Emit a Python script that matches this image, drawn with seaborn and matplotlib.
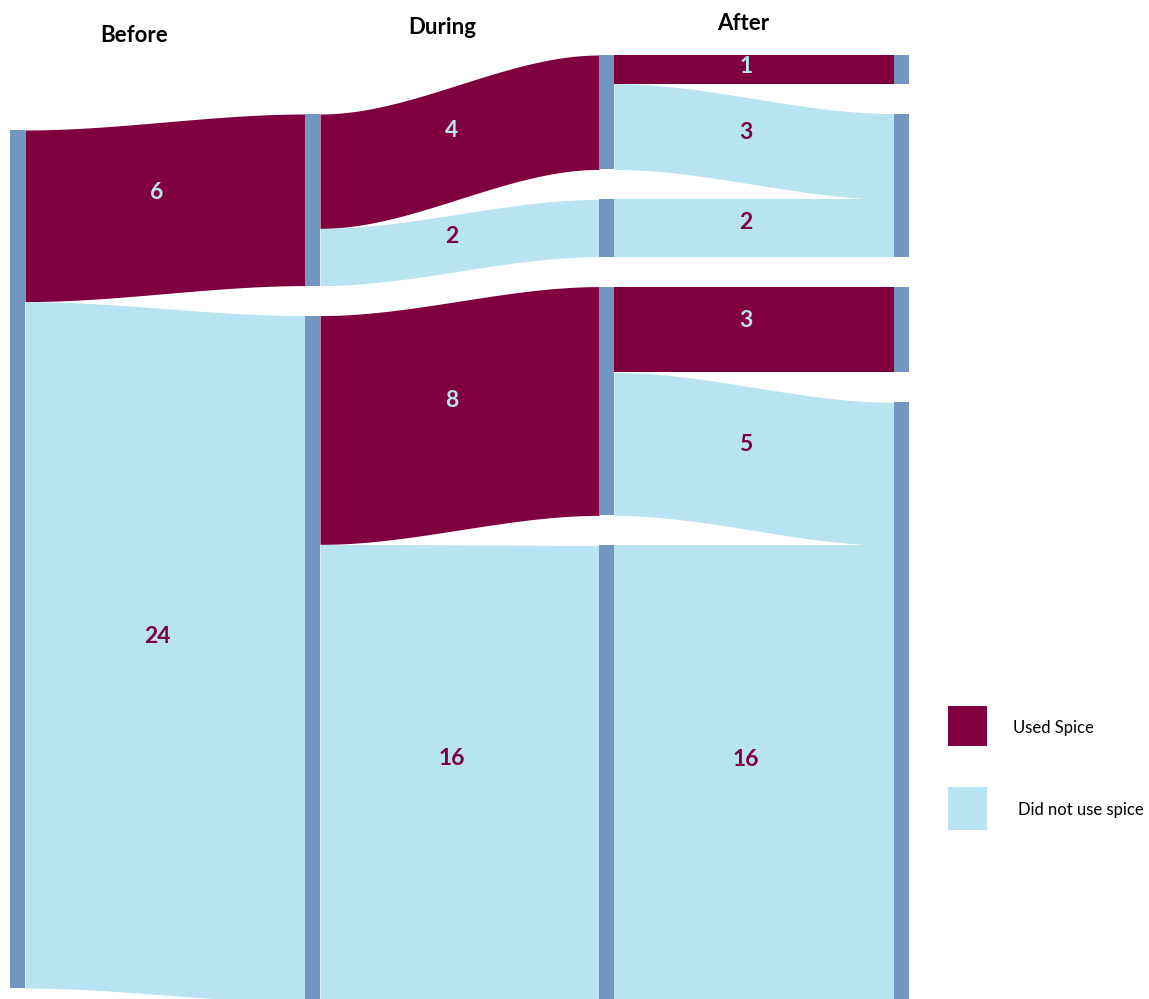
import numpy as np
import matplotlib
matplotlib.use("Agg")
import matplotlib.pyplot as plt
from matplotlib.patches import Rectangle
import seaborn as sns

# ---------------- data ----------------
stage_labels = ["Before", "During", "After"]
legend_labels = ["Used Spice", "Did not use spice"]

col_nodes = [["all"],
             ["b_used", "b_not"],
             ["uu", "un", "nu", "nn"],
             ["a_u1", "a_n1", "a_u2", "a_n2"]]

flow_source = ["all", "all", "b_used", "b_used", "b_not", "b_not",
               "uu", "uu", "un", "nu", "nu", "nn"]
flow_target = ["b_used", "b_not", "uu", "un", "nu", "nn",
               "a_u1", "a_n1", "a_n1", "a_u2", "a_n2", "a_n2"]
flow_value = [6, 24, 4, 2, 8, 16, 1, 3, 2, 3, 5, 16]
flow_used = [True, False, True, False, True, False,
             True, False, False, True, False, False]

# ---------------- style ----------------
sns.set_style("white")
plt.rcParams["font.family"] = ["Lato", "DejaVu Sans"]

C_USED = "#80003f"
C_NOT = "#b8e3f0"
C_NODE = "#7396c0"

W, H = 1149, 999
fig = plt.figure(figsize=(W / 100, H / 100), dpi=100)
ax = fig.add_axes([0, 0, 1, 1])
ax.set_xlim(0, W)
ax.set_ylim(H, 0)
ax.axis("off")

# layout
col_x = [10, 305, 599, 894]
col_top = [130, 114, 55, 55]
node_w = 15
scale = 28.6
gap = 30

# node values
node_val = {}
for s, t, v in zip(flow_source, flow_target, flow_value):
    node_val[t] = node_val.get(t, 0) + v
node_val["all"] = sum(v for s, v in zip(flow_source, flow_value) if s == "all")

node_pos = {}
node_col = {}
for ci, nodes in enumerate(col_nodes):
    y = col_top[ci]
    for n in nodes:
        h = node_val[n] * scale
        node_pos[n] = [y, y + h]
        node_col[n] = ci
        ax.add_patch(Rectangle((col_x[ci], y), node_w, h, facecolor=C_NODE,
                               edgecolor="none", zorder=3))
        y += h + gap

src_cursor = {n: node_pos[n][0] for n in node_pos}
tgt_cursor = {n: node_pos[n][0] for n in node_pos}

t = np.linspace(0, 1, 200)
ease = 3 * t ** 2 - 2 * t ** 3
for s, tg, v, used in zip(flow_source, flow_target, flow_value, flow_used):
    h = v * scale
    ci = node_col[s]
    x0 = col_x[ci] + node_w
    x1 = col_x[ci + 1]
    ys0 = src_cursor[s]
    yt0 = tgt_cursor[tg]
    src_cursor[s] += h
    tgt_cursor[tg] += h
    xs = x0 + (x1 - x0) * t
    top = ys0 + (yt0 - ys0) * ease
    bot = top + h
    col = C_USED if used else C_NOT
    ax.fill_between(xs, top, bot, color=col, linewidth=0, zorder=2)
    xm = (x0 + x1) / 2 - 8
    ym = (ys0 + yt0) / 2 + h / 2 - min(15, 0.1 * h)
    ax.text(xm, ym, str(v), ha="center", va="center", fontsize=16.5,
            fontweight="bold", color=C_NOT if used else C_USED, zorder=4)

# stage headers
header_x = [134, 442, 743]
header_y = [36, 27, 23]
for lab, hx, hy in zip(stage_labels, header_x, header_y):
    ax.text(hx, hy, lab, ha="center", va="center", fontsize=16,
            fontweight="bold", color="black")

# legend
leg_y = [706, 787]
leg_h = [40, 43]
leg_tx = [1013, 1018]
for lab, ly, lh, tx, c in zip(legend_labels, leg_y, leg_h, leg_tx, [C_USED, C_NOT]):
    ax.add_patch(Rectangle((948, ly), 39, lh, facecolor=c, edgecolor="none"))
    ax.text(tx, ly + lh / 2 + 2, lab, ha="left", va="center", fontsize=12,
            color="black")

fig.savefig("out.png", dpi=100)
